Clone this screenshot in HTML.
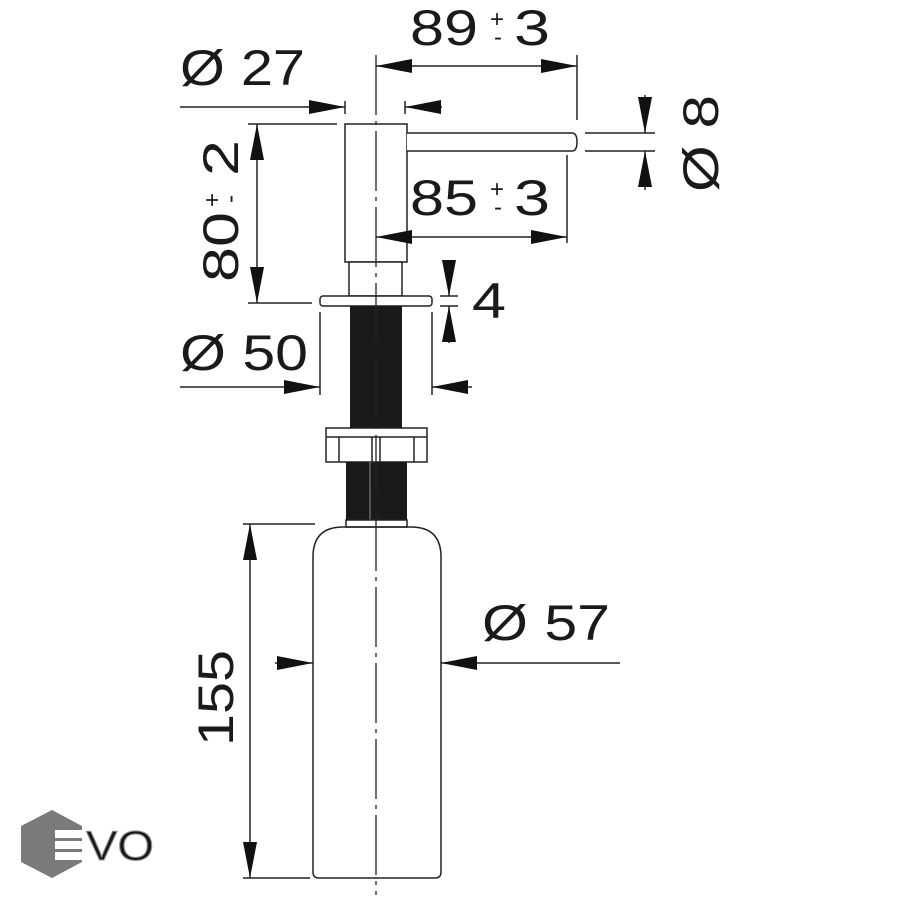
<!DOCTYPE html>
<html><head><meta charset="utf-8"><style>
html,body{margin:0;padding:0;background:#fff;}
svg{display:block}
text{font-family:"Liberation Sans",Arial,sans-serif;fill:#1a1a1a}
</style></head><body>
<svg width="900" height="900" viewBox="0 0 900 900" xmlns="http://www.w3.org/2000/svg">
<defs>
<marker id="a" viewBox="0 0 36 14" refX="36" refY="7" markerWidth="36" markerHeight="14" markerUnits="userSpaceOnUse" orient="auto-start-reverse"><path d="M0,0 L36,7 L0,14 Z" fill="#111"/></marker>
</defs>
<g stroke="#222" stroke-width="1.5" fill="none">
<rect x="345" y="124" width="62" height="138" fill="#fff"/>
<path d="M407,133 H572 Q577,133 577,142 Q577,151 572,151 H407" fill="#fff"/>
<rect x="349" y="262" width="53" height="34" fill="#fff"/>
<rect x="320" y="296" width="112" height="10" rx="3" fill="#fff"/>
<rect x="350" y="306" width="52" height="122" fill="#1a1a1a" stroke="none"/>
<rect x="326" y="428" width="101" height="34" fill="#fff"/>
<line x1="326" y1="437" x2="427" y2="437"/>
<line x1="339" y1="437" x2="339" y2="462"/>
<line x1="372" y1="437" x2="372" y2="462"/>
<line x1="380" y1="437" x2="380" y2="462"/>
<line x1="414" y1="437" x2="414" y2="462"/>
<rect x="346" y="462" width="61" height="58" fill="#1a1a1a" stroke="none"/>
<line x1="370" y1="462" x2="370" y2="520" stroke="#666"/>
<rect x="346" y="520" width="61" height="7" fill="#fff"/>
<path d="M313,557 Q313,527 343,527 H411 Q441,527 441,557 V872 Q441,878 435,878 H319 Q313,878 313,872 Z" fill="none"/>
<line x1="376" y1="55" x2="376" y2="895" stroke-width="1.3" stroke-dasharray="60,6,4,6"/>

<line x1="180" y1="107" x2="345" y2="107" marker-end="url(#a)"/>
<line x1="442" y1="107" x2="405" y2="107" marker-end="url(#a)"/>
<line x1="345" y1="101" x2="345" y2="114"/>
<line x1="405" y1="101" x2="405" y2="114"/>
<line x1="376" y1="66" x2="577" y2="66" marker-start="url(#a)" marker-end="url(#a)"/>
<line x1="577" y1="55" x2="577" y2="120"/>
<line x1="585" y1="133" x2="655" y2="133"/>
<line x1="585" y1="151" x2="655" y2="151"/>
<line x1="645" y1="95" x2="645" y2="133" marker-end="url(#a)"/>
<line x1="645" y1="190" x2="645" y2="151" marker-end="url(#a)"/>
<line x1="376" y1="237" x2="567" y2="237" marker-start="url(#a)" marker-end="url(#a)"/>
<line x1="567" y1="155" x2="567" y2="243"/>
<line x1="248" y1="124" x2="337" y2="124"/>
<line x1="248" y1="303" x2="312" y2="303"/>
<line x1="257" y1="124" x2="257" y2="303" marker-start="url(#a)" marker-end="url(#a)"/>
<line x1="440" y1="296" x2="458" y2="296"/>
<line x1="440" y1="306" x2="458" y2="306"/>
<line x1="449" y1="260" x2="449" y2="296" marker-end="url(#a)"/>
<line x1="449" y1="343" x2="449" y2="306" marker-end="url(#a)"/>
<line x1="320" y1="312" x2="320" y2="395"/>
<line x1="432" y1="312" x2="432" y2="395"/>
<line x1="180" y1="387" x2="320" y2="387" marker-end="url(#a)"/>
<line x1="472" y1="387" x2="432" y2="387" marker-end="url(#a)"/>
<line x1="243" y1="524" x2="315" y2="524"/>
<line x1="243" y1="878" x2="310" y2="878"/>
<line x1="250" y1="524" x2="250" y2="878" marker-start="url(#a)" marker-end="url(#a)"/>
<line x1="275" y1="663" x2="313" y2="663" marker-end="url(#a)"/>
<line x1="620" y1="663" x2="441" y2="663" marker-end="url(#a)"/>
</g>
<g font-size="50">
<text x="180" y="85" textLength="125" lengthAdjust="spacingAndGlyphs">Ø 27</text>
<text x="410" y="45" textLength="68" lengthAdjust="spacingAndGlyphs">89</text>
<text x="490" y="27" font-size="24">+</text>
<text x="494" y="45" font-size="24">-</text>
<text x="514" y="45" textLength="36" lengthAdjust="spacingAndGlyphs">3</text>
<text x="410" y="215" textLength="68" lengthAdjust="spacingAndGlyphs">85</text>
<text x="490" y="197" font-size="24">+</text>
<text x="494" y="215" font-size="24">-</text>
<text x="514" y="215" textLength="36" lengthAdjust="spacingAndGlyphs">3</text>
<text x="472" y="318" textLength="34" lengthAdjust="spacingAndGlyphs">4</text>
<text x="180" y="370" textLength="128" lengthAdjust="spacingAndGlyphs">Ø 50</text>
<text x="482" y="640" textLength="128" lengthAdjust="spacingAndGlyphs">Ø 57</text>
<text transform="translate(238,282) rotate(-90)" textLength="70" lengthAdjust="spacingAndGlyphs">80</text>
<text transform="translate(220,207) rotate(-90)" font-size="24">+</text>
<text transform="translate(238,203) rotate(-90)" font-size="24">-</text>
<text transform="translate(238,176) rotate(-90)" textLength="36" lengthAdjust="spacingAndGlyphs">2</text>
<text transform="translate(233,746) rotate(-90)" textLength="96" lengthAdjust="spacingAndGlyphs">155</text>
<text transform="translate(718,192) rotate(-90)" textLength="97" lengthAdjust="spacingAndGlyphs">Ø 8</text>
</g>
<polygon points="52,810 82,826 82,862 52,878 21,862 21,826" fill="#7a7a7a"/>
<rect x="55" y="830" width="28" height="8" fill="#fff"/>
<rect x="55" y="841" width="28" height="8" fill="#fff"/>
<rect x="55" y="852" width="28" height="8" fill="#fff"/>
<text x="86" y="860" font-size="42" fill="#fff" stroke="#999" stroke-width="1" textLength="68" lengthAdjust="spacingAndGlyphs">VO</text>
</svg>
</body></html>
